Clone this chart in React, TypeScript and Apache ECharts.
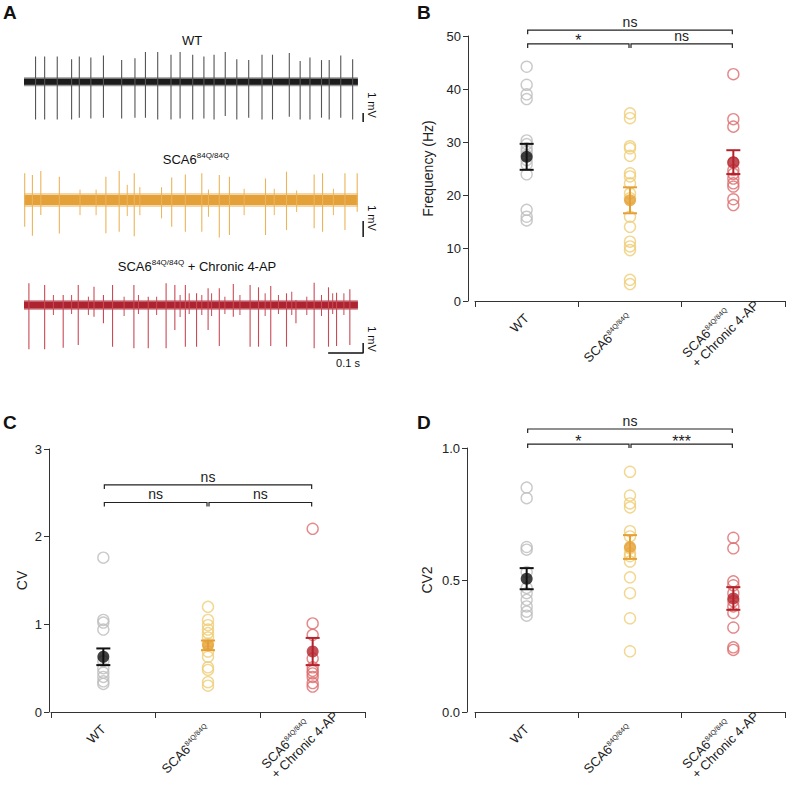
import { useEffect, useRef } from 'react';
import * as echarts from 'echarts';

const FONT = '"Liberation Sans", Arial, Helvetica, sans-serif';

// ---------- Panel A : extracellular traces ----------
const traceAxisMaxMs = 1000;
const traceBaseline = [[0, 0], [954, 0]];

const wtSpikeTimes = [33, 59, 95, 136, 158, 191, 227, 279, 317, 347, 382, 420, 446, 482, 514, 543, 575, 608, 642, 680, 710, 758, 789, 817, 850, 872, 905, 939];
const wtSpikeUp = [2.8, 2.8, 2.8, 2.5, 2.8, 2.7, 2.9, 2.4, 2.6, 3.3, 3.3, 3.0, 3.3, 3.0, 2.8, 3.0, 3.3, 2.5, 2.4, 3.0, 3.0, 3.2, 2.3, 2.7, 2.4, 2.4, 2.9, 2.5];
const wtSpikeDown = [-4.2, -4.2, -4.2, -4.2, -4.0, -4.1, -4.0, -4.1, -4.0, -4.0, -4.2, -4.2, -4.1, -4.2, -4.1, -4.2, -3.8, -4.2, -4.0, -4.2, -4.2, -3.9, -4.2, -4.2, -4.0, -4.2, -4.0, -4.2];

const scaSpikeTimes = [2, 24, 48, 101, 234, 272, 315, 422, 461, 508, 558, 587, 690, 750, 829, 853, 917, 952];
const scaSpikeUp = [1.67, 1.56, 1.81, 1.46, 1.46, 1.81, 1.67, 1.4, 1.6, 1.67, 1.56, 1.46, 1.35, 1.77, 1.6, 1.67, 1.67, 1.67];
const scaSpikeDown = [-1.67, -2.23, -0.94, -2.1, -2.08, -1.98, -2.27, -1.67, -1.98, -1.98, -2.35, -2.19, -2.19, -1.88, -1.77, -1.98, -1.88, -0.73];
const scaSmallTimes = [160, 206, 295, 331, 393, 527, 629, 715, 779, 884];
const scaSmallUp = [0.65, 0.65, 0.95, 0.8, 0.8, 0.65, 0.7, 0.7, 0.6, 0.7];
const scaSmallDown = [-0.95, -0.95, -1.0, -0.95, -1.15, -1.05, -0.95, -0.95, -0.75, -0.95];

const apSpikeTimes = [14, 59, 112, 155, 200, 227, 253, 314, 355, 406, 431, 461, 493, 526, 558, 598, 646, 670, 705, 750, 777, 829, 870, 893, 931];
const apSpikeUp = [2.17, 2.0, 1.0, 2.0, 1.83, 1.0, 2.0, 2.0, 0.83, 2.17, 2.0, 2.0, 1.17, 1.67, 1.67, 2.1, 2.0, 1.77, 1.9, 1.17, 0.5, 2.23, 1.77, 1.23, 1.57];
const apSpikeDown = [-4.43, -4.43, -4.27, -4.0, -1.17, -1.83, -4.17, -4.33, -4.33, -4.33, -2.5, -4.17, -4.17, -2.5, -4.1, -1.17, -4.17, -4.17, -4.1, -4.17, -1.83, -4.33, -4.17, -4.1, -4.0];
const apSmallTimes = [84, 136, 184, 286, 327, 379, 446, 472, 508, 536, 574, 617, 689, 727, 765, 808, 850, 882, 914];
const apSmallUp = [1.0, 1.0, 0.83, 0.83, 1.0, 0.83, 1.0, 1.17, 1.0, 1.17, 0.83, 1.0, 1.17, 1.0, 1.33, 0.83, 1.0, 1.17, 1.17];
const apSmallDown = [-1.0, -0.9, -1.0, -1.1, -0.9, -1.0, -1.2, -0.9, -1.0, -1.1, -0.9, -1.0, -1.1, -0.9, -1.0, -1.0, -1.1, -0.9, -1.0];

const wtScaleBar = [[969, -3.48], [969, -4.48]];
const scaScaleBar = [[969, -1.31], [969, -2.31]];
const apScaleBar = [[869, -4.8], [969, -4.8], [969, -3.8]];

// ---------- Panels B-D : groups ----------
const groups = ['WT', 'SCA6^84Q/84Q', 'SCA6^84Q/84Q\n+ Chronic 4-AP'];

const freqWT = [44.2, 40.8, 39.0, 38.1, 30.3, 29.6, 28.8, 28.2, 27.5, 26.6, 25.8, 23.9, 17.2, 15.9, 15.2];
const freqSCA = [35.4, 34.5, 29.2, 28.8, 27.4, 24.1, 23.5, 22.2, 20.3, 19.4, 15.9, 14.0, 11.2, 10.3, 9.6, 4.0, 3.2];
const freqAP = [42.8, 34.3, 32.9, 26.1, 24.7, 24.0, 23.1, 22.2, 21.6, 19.2, 18.1];
const freqMean = [27.2, 19.0, 26.2];
const freqSem = [2.45, 2.45, 2.25];
const freqBrackets = [[0, 1, 48.5], [1, 2, 48.5], [0, 2, 51.1]];
const freqBracketLabels = ['*', 'ns', 'ns'];
const freqTicks = [0, 50, 10];

const cvWT = [1.76, 1.05, 1.02, 0.94, 0.58, 0.5, 0.45, 0.4, 0.35, 0.32];
const cvSCA = [1.2, 1.05, 0.99, 0.94, 0.9, 0.85, 0.78, 0.69, 0.63, 0.51, 0.48, 0.34, 0.3];
const cvAP = [2.09, 1.01, 0.88, 0.61, 0.51, 0.47, 0.44, 0.4, 0.33, 0.29];
const cvMean = [0.63, 0.76, 0.69];
const cvSem = [0.095, 0.055, 0.155];
const cvBrackets = [[0, 1, 2.39], [1, 2, 2.39], [0, 2, 2.59]];
const cvBracketLabels = ['ns', 'ns', 'ns'];
const cvTicks = [0, 3, 1];

const cv2WT = [0.85, 0.81, 0.625, 0.615, 0.53, 0.47, 0.45, 0.425, 0.4, 0.38, 0.365];
const cv2SCA = [0.91, 0.82, 0.79, 0.775, 0.685, 0.665, 0.62, 0.6, 0.59, 0.57, 0.51, 0.45, 0.355, 0.23];
const cv2AP = [0.66, 0.62, 0.495, 0.48, 0.45, 0.42, 0.4, 0.375, 0.32, 0.245, 0.235];
const cv2Mean = [0.505, 0.625, 0.43];
const cv2Sem = [0.04, 0.045, 0.043];
const cv2Brackets = [[0, 1, 1.015], [1, 2, 1.015], [0, 2, 1.072]];
const cv2BracketLabels = ['*', '***', 'ns'];
const cv2Ticks = [0, 1, 0.5];

const openColors = ['#bdbdbd', '#efcd76', '#dd6b6d'];
const meanColors = ['#111111', '#e59f34', '#b3232c'];

function richLabel(v: string) {
  return v
    .split('\n')
    .map((line) => {
      const [base, sup] = line.split('^');
      return `{a|${base}}` + (sup ? `{s|${sup}}` : '');
    })
    .join('\n');
}

function buildOption() {
  const grids: any[] = [];
  const xAxes: any[] = [];
  const yAxes: any[] = [];
  const series: any[] = [];

  // traces
  const traces = [
    { top: 27.7, min: -6, max: 6, px: 9, core: '#1c1c1c', spike: '#555555', w: [9, 6], big: [wtSpikeTimes, wtSpikeUp, wtSpikeDown], small: null as any, bar: wtScaleBar },
    { top: 144, min: -3.5, max: 3.5, px: 16, core: '#e4a13a', spike: '#ecb45a', w: [14, 10], big: [scaSpikeTimes, scaSpikeUp, scaSpikeDown], small: [scaSmallTimes, scaSmallUp, scaSmallDown], bar: scaScaleBar },
    { top: 245, min: -6, max: 6, px: 10, core: '#ad2330', spike: '#c84b57', w: [10, 7], big: [apSpikeTimes, apSpikeUp, apSpikeDown], small: [apSmallTimes, apSmallUp, apSmallDown], bar: apScaleBar },
  ];
  traces.forEach((tr, i) => {
    grids.push({ left: 24, width: 350, top: tr.top, height: (tr.max - tr.min) * tr.px });
    xAxes.push({ type: 'value', gridIndex: i, min: 0, max: traceAxisMaxMs, show: false });
    yAxes.push({ type: 'value', gridIndex: i, min: tr.min, max: tr.max, show: false });
    series.push({ type: 'line', xAxisIndex: i, yAxisIndex: i, data: traceBaseline, symbol: 'none', silent: true, z: 1, lineStyle: { color: tr.core, width: tr.w[0], opacity: 0.45 } });
    series.push({ type: 'line', xAxisIndex: i, yAxisIndex: i, data: traceBaseline, symbol: 'none', silent: true, z: 2, lineStyle: { color: tr.core, width: tr.w[1] } });
    const mk = (arr: any, color: string, width: number, z: number) => ({
      type: 'custom', xAxisIndex: i, yAxisIndex: i, silent: true, z,
      encode: { x: 0, y: [1, 2] },
      data: arr[0].map((t: number, k: number) => [t, arr[1][k], arr[2][k]]),
      renderItem: (_p: any, api: any) => {
        const a = api.coord([api.value(0), api.value(1)]);
        const b = api.coord([api.value(0), api.value(2)]);
        return { type: 'line', shape: { x1: a[0], y1: a[1], x2: b[0], y2: b[1] }, style: { stroke: color, lineWidth: width } };
      },
    });
    if (tr.small) series.push(mk(tr.small, tr.spike, 1, 3));
    series.push(mk(tr.big, tr.spike, 1.1, 4));
    series.push({ type: 'line', xAxisIndex: i, yAxisIndex: i, data: tr.bar, symbol: 'none', silent: true, z: 5, lineStyle: { color: '#111', width: 1.5 } });
  });

  // scatter panels
  const panels = [
    { grid: { left: 475, width: 310, top: 36, height: 265 }, xOff: 6, yOff: 7, ticks: freqTicks, name: 'Frequency (Hz)', nameGap: 33, pts: [freqWT, freqSCA, freqAP], mean: freqMean, sem: freqSem, br: freqBrackets, brl: freqBracketLabels, fmt: (v: number) => String(v) },
    { grid: { left: 51, width: 314, top: 449, height: 263 }, xOff: 6, yOff: 2, ticks: cvTicks, name: 'CV', nameGap: 20, pts: [cvWT, cvSCA, cvAP], mean: cvMean, sem: cvSem, br: cvBrackets, brl: cvBracketLabels, fmt: (v: number) => String(v) },
    { grid: { left: 475, width: 310, top: 448, height: 264 }, xOff: 6, yOff: 8, ticks: cv2Ticks, name: 'CV2', nameGap: 33, pts: [cv2WT, cv2SCA, cv2AP], mean: cv2Mean, sem: cv2Sem, br: cv2Brackets, brl: cv2BracketLabels, fmt: (v: number) => v.toFixed(1) },
  ];
  panels.forEach((p, j) => {
    const gi = 3 + j;
    grids.push(p.grid);
    xAxes.push({
      type: 'category', gridIndex: gi, offset: p.xOff, boundaryGap: true,
      data: groups.map((g, k) => (k === 2 ? { value: g, textStyle: { padding: [0, -26, 0, 0] } } : g)),
      axisLine: { show: true, lineStyle: { color: '#333', width: 1 } },
      axisTick: { show: true, length: 6, interval: 0, alignWithLabel: false, lineStyle: { color: '#333' } },
      axisLabel: {
        interval: 0, rotate: 45, margin: 9, formatter: richLabel,
        rich: {
          a: { fontSize: 13, lineHeight: 14, color: '#222', fontFamily: FONT, align: 'left' },
          s: { fontSize: 7, lineHeight: 14, color: '#222', fontFamily: FONT, verticalAlign: 'top', align: 'left' },
        },
      },
      splitLine: { show: false },
    });
    yAxes.push({
      type: 'value', gridIndex: gi, min: p.ticks[0], max: p.ticks[1], interval: p.ticks[2], offset: p.yOff,
      name: p.name, nameLocation: 'middle', nameGap: p.nameGap, nameTextStyle: { fontSize: 14, color: '#222', fontFamily: FONT },
      axisLine: { show: true, lineStyle: { color: '#333', width: 1 } },
      axisTick: { show: true, length: 5, lineStyle: { color: '#333' } },
      axisLabel: { fontSize: 13, color: '#222', fontFamily: FONT, margin: 7, formatter: p.fmt },
      splitLine: { show: false },
    });
    p.pts.forEach((arr, g) => {
      series.push({
        type: 'scatter', xAxisIndex: gi, yAxisIndex: gi, symbol: 'circle', symbolSize: 11, z: 2, silent: true,
        data: arr.map((v) => [g, v]),
        itemStyle: { color: 'rgba(255,255,255,0)', borderColor: openColors[g], borderWidth: 1.4 },
      });
    });
    series.push({
      type: 'custom', xAxisIndex: gi, yAxisIndex: gi, z: 3, silent: true,
      encode: { x: 0, y: [1, 2, 3] },
      data: p.mean.map((m, g) => [g, m, m - p.sem[g], m + p.sem[g]]),
      renderItem: (params: any, api: any) => {
        const lo = api.coord([api.value(0), api.value(2)]);
        const hi = api.coord([api.value(0), api.value(3)]);
        const x = lo[0];
        const w = 7;
        const st = { stroke: meanColors[params.dataIndex], lineWidth: 2 };
        return {
          type: 'group',
          children: [
            { type: 'line', shape: { x1: x, y1: lo[1], x2: x, y2: hi[1] }, style: st },
            { type: 'line', shape: { x1: x - w, y1: lo[1], x2: x + w, y2: lo[1] }, style: st },
            { type: 'line', shape: { x1: x - w, y1: hi[1], x2: x + w, y2: hi[1] }, style: st },
          ],
        };
      },
    });
    series.push({
      type: 'scatter', xAxisIndex: gi, yAxisIndex: gi, symbol: 'circle', symbolSize: 12, z: 4, silent: true,
      data: p.mean.map((m, g) => ({ value: [g, m], itemStyle: { color: meanColors[g] } })),
    });
    series.push({
      type: 'custom', xAxisIndex: gi, yAxisIndex: gi, z: 5, silent: true, clip: false,
      encode: { x: [0, 1], y: 2 },
      data: p.br,
      renderItem: (params: any, api: any) => {
        const a = api.coord([api.value(0), api.value(2)]);
        const b = api.coord([api.value(1), api.value(2)]);
        const x1 = a[0] + 1;
        const x2 = b[0] - 1;
        const y = a[1];
        const label = p.brl[params.dataIndex];
        const star = label.indexOf('*') >= 0;
        return {
          type: 'group',
          children: [
            { type: 'polyline', shape: { points: [[x1, y + 4], [x1, y], [x2, y], [x2, y + 4]] }, style: { stroke: '#222', fill: null, lineWidth: 1.2 } },
            { type: 'text', style: { text: label, x: (x1 + x2) / 2, y: star ? y + 5 : y - 1, align: 'center', verticalAlign: 'bottom', fontSize: star ? 16 : 14, fontFamily: FONT, fill: '#222' } },
          ],
        };
      },
    });
  });

  const letter = (t: string, x: number, y: number) => ({ type: 'text', left: x, top: y, style: { text: t, fontSize: 19, fontWeight: 'bold', fontFamily: FONT, fill: '#111' } });
  const plain = { fontSize: 13, fontFamily: FONT, fill: '#111' };
  const richT = {
    a: { fontSize: 13, lineHeight: 15, fontFamily: FONT, fill: '#111' },
    s: { fontSize: 8, lineHeight: 15, fontFamily: FONT, fill: '#111', verticalAlign: 'top' },
  };
  const mv = (x: number, y: number) => ({ type: 'text', x, y, rotation: -Math.PI / 2, style: { text: '1 mV', fontSize: 11, fontFamily: FONT, fill: '#111', align: 'center', verticalAlign: 'middle' } });

  const graphic = [
    letter('A', 3, 3),
    letter('B', 417, 3),
    letter('C', 3, 413),
    letter('D', 417, 413),
    { type: 'text', x: 192, y: 40, style: { ...plain, text: 'WT', align: 'center', verticalAlign: 'middle' } },
    { type: 'text', x: 196, y: 159, style: { text: '{a|SCA6}{s|84Q/84Q}', rich: richT, align: 'center', verticalAlign: 'middle' } },
    { type: 'text', x: 197, y: 266, style: { text: '{a|SCA6}{s|84Q/84Q}{a| + Chronic 4-AP}', rich: richT, align: 'center', verticalAlign: 'middle' } },
    mv(372, 105),
    mv(372, 218),
    mv(372, 339),
    { type: 'text', x: 348, y: 363, style: { text: '0.1 s', fontSize: 11, fontFamily: FONT, fill: '#111', align: 'center', verticalAlign: 'middle' } },
  ];

  return { animation: false, backgroundColor: '#ffffff', grid: grids, xAxis: xAxes, yAxis: yAxes, series, graphic };
}

export default function App() {
  const ref = useRef<HTMLDivElement>(null);
  useEffect(() => {
    if (!ref.current) return;
    const chart = echarts.init(ref.current, null, { renderer: 'svg' });
    chart.setOption(buildOption() as any);
    return () => chart.dispose();
  }, []);
  return <div ref={ref} style={{ position: 'absolute', left: 0, top: 0, width: 787, height: 798 }} />;
}
